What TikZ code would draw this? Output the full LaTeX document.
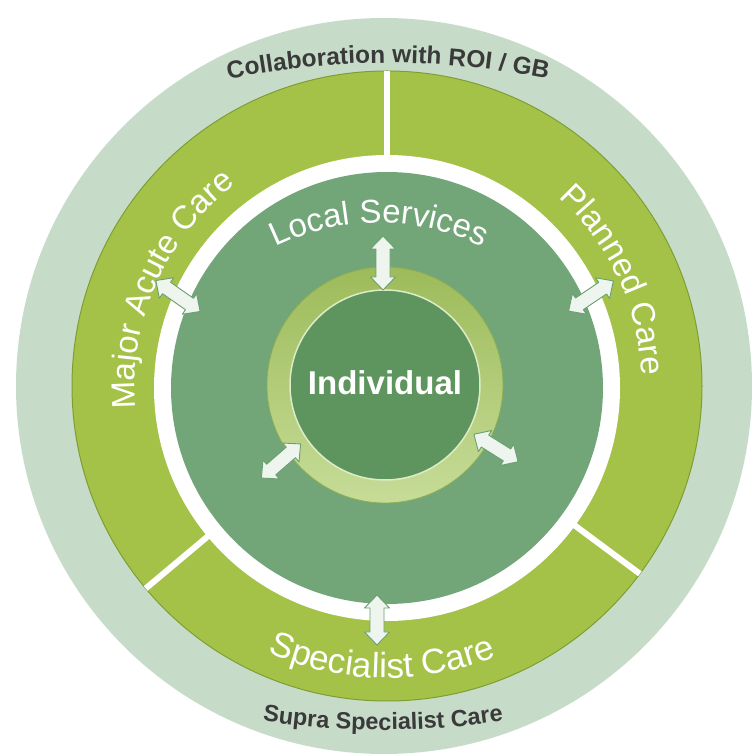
\documentclass[tikz,border=0pt]{standalone}
\usepackage{fontspec}
\newfontfamily\lsans{Liberation Sans}
\usetikzlibrary{decorations.text}
\definecolor{pale}{HTML}{C7DBC9}
\definecolor{greenring}{HTML}{A5C248}
\definecolor{ringedge}{HTML}{7E9E34}
\definecolor{darkdisk}{HTML}{72A678}
\definecolor{innerdisk}{HTML}{5E955F}
\definecolor{innerrim}{HTML}{DDEBC6}
\definecolor{ringtop}{HTML}{9DBB5A}
\definecolor{ringbot}{HTML}{C6DC98}
\definecolor{ringdark}{HTML}{8DAE52}
\definecolor{txtgray}{HTML}{3A3A3A}
\definecolor{arrowfill}{HTML}{EEF4EE}
\definecolor{arrowedge}{HTML}{6A9F70}
\newcommand\fcollab{\lsans\bfseries\fontsize{24.5}{24.5}\selectfont}
\newcommand\fsupra{\lsans\bfseries\fontsize{23.5}{23.5}\selectfont}
\newcommand\fringlab{\lsans\fontsize{33}{33}\selectfont}
\newcommand\fspec{\lsans\fontsize{35}{35}\selectfont}
\newcommand\flocal{\lsans\fontsize{33}{33}\selectfont}
\newcommand\findiv{\lsans\bfseries\fontsize{33}{33}\selectfont}
\begin{document}
\begin{tikzpicture}[x=1pt,y=1pt,
  divider/.style={white, line width=6},
  arrowsty/.style={fill=arrowfill, draw=arrowedge, line width=0.9, line join=round},
  pics/dblarr/.style={code={\draw[arrowsty] (-#1,0) -- (-#1+13,12.5) -- (-#1+13,7) -- (#1-13,7) -- (#1-13,12.5) -- (#1,0) -- (#1-13,-12.5) -- (#1-13,-7) -- (-#1+13,-7) -- (-#1+13,-12.5) -- cycle;}}]
\useasboundingbox (0,0) rectangle (752,756);
\coordinate (CP) at (384,370);
\coordinate (C) at (387,370);
\coordinate (CW) at (387,368);
\coordinate (CI) at (385,371);
\coordinate (LS) at (379,297);
\coordinate (SU) at (383,826);
\coordinate (CO) at (388,-107);
% rings
\fill[pale] (CP) circle[radius=368];
\fill[greenring, draw=ringedge, line width=1] (C) circle[radius=315];
\fill[white] (CW) circle[radius=233];
\fill[darkdisk] (CW) circle[radius=216];
\draw[divider] ([shift={(90:230)}]C) -- ([shift={(90:315)}]C);
\draw[divider] ([shift={(220:230)}]C) -- ([shift={(220:315)}]C);
\draw[divider] ([shift={(-36.6:230)}]C) -- ([shift={(-36.6:315)}]C);
% individual ring
\shade[even odd rule, top color=ringtop, bottom color=ringbot] (CI) circle[radius=118] (CI) circle[radius=95];
\draw[ringdark, line width=0.8] (CI) circle[radius=118];
\fill[innerdisk, draw=innerrim, line width=1.5] (CI) circle[radius=95];
\node[font=\findiv, text=white, inner sep=0] (ind) at (385,373) {Individual};
% arrows
\pic[rotate=90] at (383,493) {dblarr=27};
\pic[rotate=90] at (377,136) {dblarr=25};
\pic[rotate=-35] at (178,460) {dblarr=27};
\pic[rotate=34] at (591,460) {dblarr=27};
\pic[rotate=41] at (281,295) {dblarr=26};
\pic[rotate=-32] at (496,308) {dblarr=26};
% curved labels
\path[decorate, decoration={text along path, text align=center, text color=txtgray,
  text={|\fcollab|Collaboration with ROI / GB}}]
  ([shift={(102:800)}]CO) arc[start angle=102, end angle=78, radius=800];
\path[decorate, decoration={text along path, text align=center, text color=txtgray,
  text={|\fsupra|Supra Specialist Care}}]
  ([shift={(260:800)}]SU) arc[start angle=260, end angle=280, radius=800];
\path[decorate, decoration={text along path, text align=center, text color=white,
  text={|\fspec|Specialist Care}}]
  ([shift={(230:292)}]C) arc[start angle=230, end angle=308, radius=292];
\path[decorate, decoration={text along path, text align=center, text color=white,
  text={|\fringlab|Major Acute Care}}]
  ([shift={(200:252)}]C) arc[start angle=200, end angle=112, radius=252];
\path[decorate, decoration={text along path, text align=center, text color=white,
  text={|\fringlab|Planned Care}}]
  ([shift={(52:255)}]C) arc[start angle=52, end angle=-2, radius=255];
\path[decorate, decoration={text along path, text align=center, text color=white,
  text={|\flocal|Local Services}}]
  ([shift={(132:236)}]LS) arc[start angle=132, end angle=48, radius=236];
\end{tikzpicture}
\end{document}
